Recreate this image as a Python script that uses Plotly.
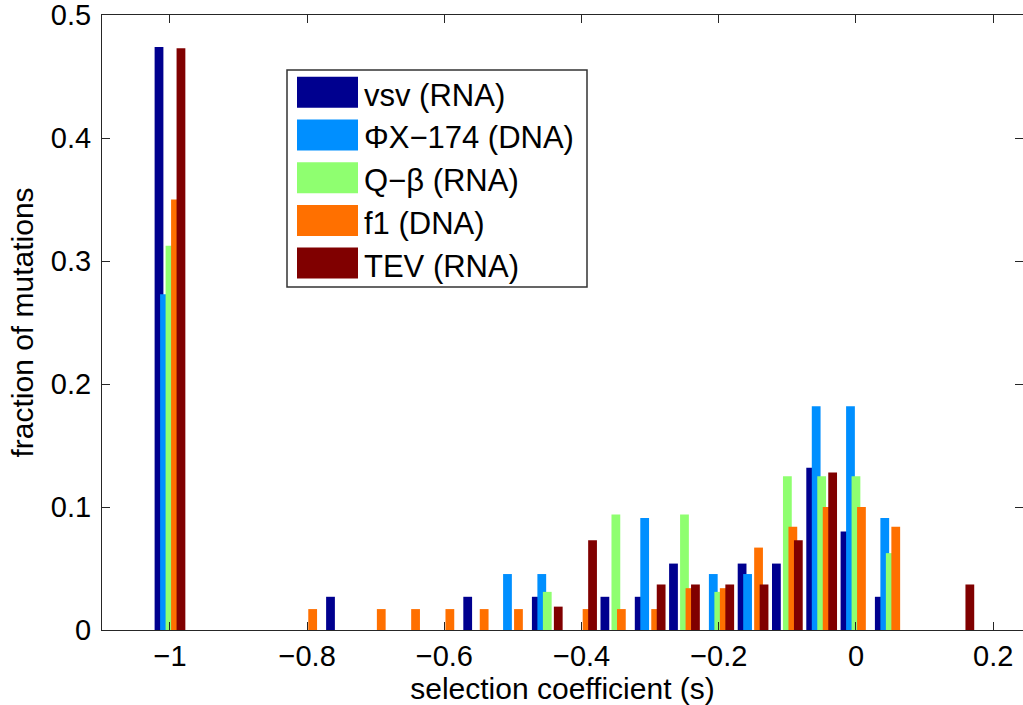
import plotly.graph_objects as go

# ---- data ----
bin_centers = [-1.00, -0.95, -0.90, -0.85, -0.80, -0.75, -0.70, -0.65, -0.60, -0.55,
               -0.50, -0.45, -0.40, -0.35, -0.30, -0.25, -0.20, -0.15, -0.10, -0.05,
               0.00, 0.05, 0.10, 0.15, 0.20]

vsv = [0.474, 0, 0, 0, 0, 0.027, 0, 0, 0, 0.027,
       0, 0.027, 0, 0.027, 0.027, 0.054, 0, 0.054, 0.054, 0.132,
       0.080, 0.027, 0, 0, 0]
phix174 = [0.273, 0, 0, 0, 0, 0, 0, 0, 0, 0,
           0.0455, 0.0455, 0, 0, 0.091, 0, 0.0455, 0.0455, 0, 0.182,
           0.182, 0.091, 0, 0, 0]
qbeta = [0.3125, 0, 0, 0, 0, 0, 0, 0, 0, 0,
         0, 0.031, 0, 0.094, 0, 0.094, 0.031, 0, 0.125, 0.125,
         0.125, 0.0625, 0, 0, 0]
f1 = [0.350, 0, 0, 0, 0.017, 0, 0.017, 0.017, 0.017, 0.017,
      0.017, 0, 0.017, 0.017, 0.017, 0.034, 0.034, 0.067, 0.084, 0.100,
      0.100, 0.084, 0, 0, 0]
tev = [0.473, 0, 0, 0, 0, 0, 0, 0, 0, 0,
       0, 0.019, 0.073, 0, 0.037, 0.037, 0.037, 0.037, 0.073, 0.128,
       0, 0, 0, 0.037, 0]

series_names = ["vsv (RNA)", "\u03A6X\u2212174 (DNA)", "Q\u2212\u03B2 (RNA)", "f1 (DNA)", "TEV (RNA)"]
series_values = [vsv, phix174, qbeta, f1, tev]
series_colors = ["#00008F", "#008FFF", "#8FFF70", "#FF7000", "#800000"]

x_tick_vals = [-1.0, -0.8, -0.6, -0.4, -0.2, 0.0, 0.2]
x_tick_text = ["\u22121", "\u22120.8", "\u22120.6", "\u22120.4", "\u22120.2", "0", "0.2"]
y_tick_vals = [0, 0.1, 0.2, 0.3, 0.4, 0.5]
y_tick_text = ["0", "0.1", "0.2", "0.3", "0.4", "0.5"]

# ---- styling / geometry ----
W, H = 1023, 705
ML, MR, MT, MB = 102, 0, 15, 75
FONT = "Liberation Sans, Arial, Helvetica, sans-serif"
bar_w = 0.0128
step = 0.008

fig = go.Figure()
for i, (name, vals, col) in enumerate(zip(series_names, series_values, series_colors)):
    centre_off = (i - 2) * step
    fig.add_trace(go.Bar(
        x=bin_centers, y=vals, name=name,
        width=bar_w, offset=centre_off - bar_w / 2,
        marker=dict(color=col, line=dict(width=0)),
        showlegend=False,
    ))

pw = W - ML - MR
ph = H - MT - MB


def px(xp):
    return (xp - ML) / pw


def py(yp):
    return (H - MB - yp) / ph


axis_col = "#262626"
fig.update_layout(
    width=W, height=H,
    margin=dict(l=ML, r=MR, t=MT, b=MB, pad=0),
    paper_bgcolor="white", plot_bgcolor="white",
    barmode="overlay",
    font=dict(family=FONT, color="black"),
    xaxis=dict(
        range=[-1.0991, 0.2435], tickvals=x_tick_vals, ticktext=x_tick_text,
        ticks="inside", ticklen=8, tickcolor=axis_col, tickwidth=1,
        showline=True, linecolor=axis_col, linewidth=1, mirror="ticks",
        showgrid=False, zeroline=False, ticklabeloverflow="allow",
        tickfont=dict(size=29, family=FONT),
        title=dict(text="selection coefficient (s)", font=dict(size=30, family=FONT), standoff=4),
    ),
    yaxis=dict(
        range=[0, 0.5], tickvals=y_tick_vals, ticktext=y_tick_text,
        ticks="inside", ticklen=8, tickcolor=axis_col, tickwidth=1,
        showline=True, linecolor=axis_col, linewidth=1, mirror=False,
        showgrid=False, zeroline=False, ticklabelstandoff=4,
        ticklabeloverflow="allow",
        tickfont=dict(size=29, family=FONT),
        title=dict(text="fraction of mutations", font=dict(size=30, family=FONT), standoff=8),
    ),
    yaxis2=dict(
        overlaying="y", side="right", matches="y", range=[0, 0.5],
        tickvals=y_tick_vals, ticks="inside", ticklen=8, tickcolor=axis_col,
        showticklabels=False, showline=False, showgrid=False, zeroline=False,
    ),
)
fig.add_trace(go.Scatter(x=[], y=[], yaxis="y2", showlegend=False, hoverinfo="skip"))

# ---- legend drawn as shapes + text ----
leg_x0, leg_x1, leg_y0, leg_y1 = 287, 587, 70, 287
fig.add_shape(type="rect", xref="paper", yref="paper",
              x0=px(leg_x0), x1=px(leg_x1), y0=py(leg_y1), y1=py(leg_y0),
              line=dict(color="#333333", width=1.5), fillcolor="white", layer="above")
row0, row_gap, sw_h = 92.3, 42.7, 31
for i, (name, col) in enumerate(zip(series_names, series_colors)):
    cy = row0 + i * row_gap
    fig.add_shape(type="rect", xref="paper", yref="paper",
                  x0=px(297), x1=px(358), y0=py(cy + sw_h / 2), y1=py(cy - sw_h / 2),
                  line=dict(width=0), fillcolor=col, layer="above")
    fig.add_annotation(xref="paper", yref="paper", x=px(362), y=py(cy + 3),
                       xanchor="left", yanchor="middle", showarrow=False,
                       text=name, font=dict(size=31, family=FONT, color="black"))

fig.write_html("out.html")
